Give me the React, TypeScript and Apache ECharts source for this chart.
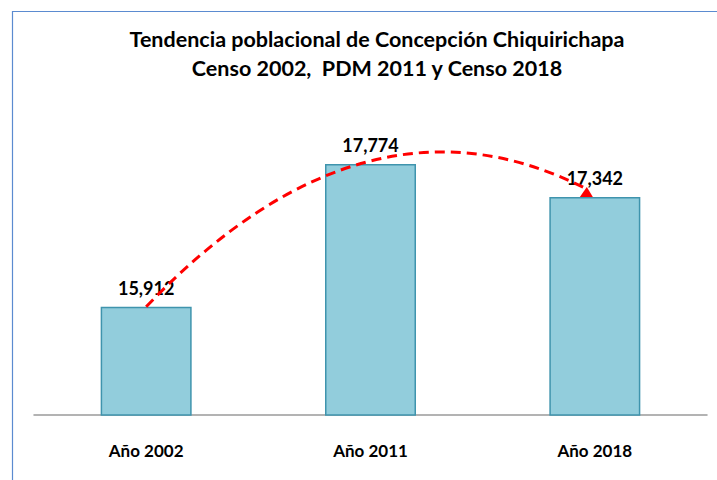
import React, { useEffect, useRef } from "react";
import * as echarts from "echarts";

const titleLines = [
  "Tendencia poblacional de Concepción Chiquirichapa",
  "Censo 2002,  PDM 2011 y Censo 2018",
];
const categories = ["Año 2002", "Año 2011", "Año 2018"];
const population = [15912, 17774, 17342];
const yMin = 14500;
const yMax = 19000;

const FONT = "Lato, 'Open Sans', sans-serif";

export default function App() {
  const ref = useRef<HTMLDivElement>(null);

  useEffect(() => {
    if (!ref.current) return;
    const chart = echarts.init(ref.current, null, { renderer: "svg" });

    const option: any = {
      animation: false,
      backgroundColor: "#ffffff",
      title: {
        text: titleLines.join("\n"),
        left: 372,
        textAlign: "center",
        top: 19,
        textStyle: {
          fontFamily: FONT,
          fontWeight: "bold",
          fontSize: 21.5,
          lineHeight: 29,
          color: "#000000",
        },
      },
      graphic: [
        {
          type: "rect",
          shape: { x: 12.5, y: 11.5, width: 900, height: 700 },
          style: { fill: "none", stroke: "#5B8BD0", lineWidth: 1.2 },
          silent: true,
        },
      ],
      grid: { left: 34, right: 10, top: 70, bottom: 65 },
      xAxis: {
        type: "category",
        data: categories,
        axisTick: { show: false },
        axisLine: { lineStyle: { color: "#9A9A9A", width: 1.5 } },
        axisLabel: {
          margin: 27,
          fontFamily: FONT,
          fontWeight: "bold",
          fontSize: 17,
          color: "#000000",
        },
      },
      yAxis: {
        type: "value",
        min: yMin,
        max: yMax,
        show: false,
        splitLine: { show: false },
      },
      series: [
        {
          type: "bar",
          data: population,
          barWidth: 91,
          itemStyle: {
            color: "#92CDDC",
            borderColor: "#3F94AD",
            borderWidth: 1.5,
          },
          label: {
            show: true,
            position: "top",
            distance: 10,
            fontFamily: FONT,
            fontWeight: "bold",
            fontSize: 18,
            color: "#000000",
            formatter: (p: any) => Number(p.value).toLocaleString("en-US"),
          },
          z: 2,
        },
        {
          type: "custom",
          coordinateSystem: "cartesian2d",
          data: [[0, population[0]]],
          silent: true,
          clip: false,
          z: 5,
          renderItem: (_params: any, api: any) => {
            const p0 = api.coord([0, population[0]]);
            const p1 = api.coord([1, population[1]]);
            const p2 = api.coord([2, population[2]]);
            const cx = 2 * p1[0] - (p0[0] + p2[0]) / 2;
            const cy = 2 * p1[1] - (p0[1] + p2[1]) / 2;
            return {
              type: "group",
              children: [
                {
                  type: "bezierCurve",
                  shape: {
                    x1: p0[0],
                    y1: p0[1],
                    x2: p2[0] - 8,
                    y2: p2[1] - 8,
                    cpx1: cx - 4,
                    cpy1: cy,
                  },
                  style: {
                    fill: "none",
                    stroke: "#FF0000",
                    lineWidth: 3,
                    lineDash: [10, 6],
                  },
                },
                {
                  type: "polygon",
                  shape: {
                    points: [
                      [p2[0] - 15, p2[1]],
                      [p2[0] - 2, p2[1]],
                      [p2[0] - 8, p2[1] - 10],
                    ],
                  },
                  style: { fill: "#FF0000" },
                },
              ],
            };
          },
        },
      ],
    };

    chart.setOption(option);
    return () => chart.dispose();
  }, []);

  return (
    <div
      ref={ref}
      style={{ position: "fixed", left: 0, top: 0, width: 717, height: 480 }}
    />
  );
}
